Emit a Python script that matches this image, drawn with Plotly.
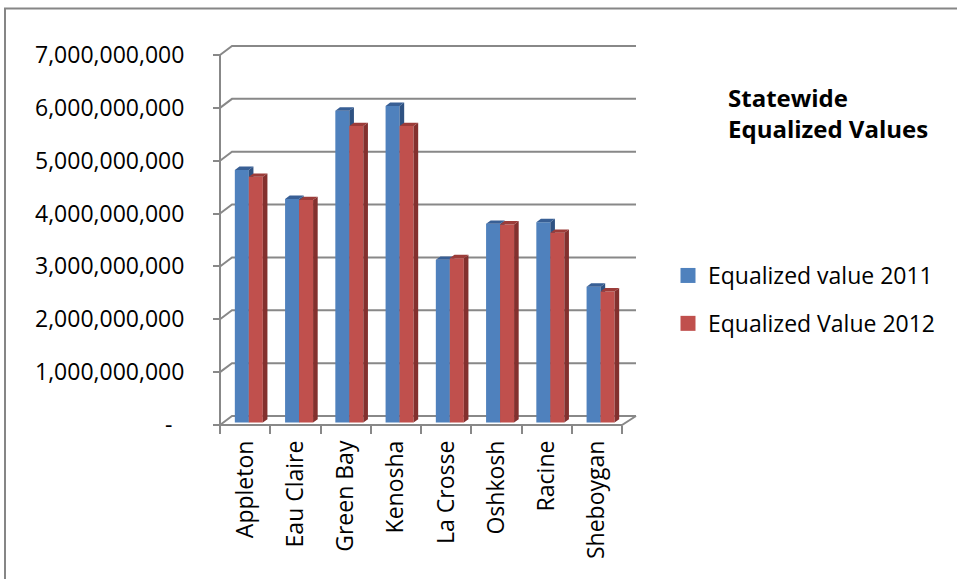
import plotly.graph_objects as go

# ---- data -------------------------------------------------------------
cities = ["Appleton", "Eau Claire", "Green Bay", "Kenosha",
          "La Crosse", "Oshkosh", "Racine", "Sheboygan"]
value_2011 = [4.78e9, 4.23e9, 5.90e9, 5.99e9, 3.08e9, 3.76e9, 3.79e9, 2.57e9]
value_2012 = [4.65e9, 4.21e9, 5.61e9, 5.61e9, 3.11e9, 3.75e9, 3.59e9, 2.48e9]
series_names = ["Equalized value 2011", "Equalized Value 2012"]
y_tick_values = [0, 1e9, 2e9, 3e9, 4e9, 5e9, 6e9, 7e9]
chart_title = "Statewide<br>Equalized Values"

# ---- layout geometry (pixels) -----------------------------------------
W, H = 957, 579
L, R, T, B = 200, 640, 40, 440          # plot area box
AXIS_X, AXIS_Y = 220, 425               # front-left corner of the floor
PX_PER_CAT = 50.25                      # horizontal pixels per category
PX_PER_BN = 52.857                      # vertical pixels per 1,000,000,000

WALL_DX, WALL_DY = 12, 9                # depth of the box (back wall offset)
BAR_DX, BAR_DY = 3.7, 2.4               # bars sit slightly behind the front
BAR_W = 14                              # front-face width of one bar
BAR_DEPTH_DX, BAR_DEPTH_DY = 4.6, 3.4   # visible depth of a bar

FONT = "'Open Sans', Lato, sans-serif"
GRID = "#888888"
COLORS = {
    "front": ["#4F81BD", "#C0504D"],
    "side": ["#2F5282", "#83302E"],
    "top": ["#385F95", "#9C3C39"],
}


def dx(px):
    return px / PX_PER_CAT


def dy(px):
    return px / PX_PER_BN * 1e9


def paper_x(px):
    return (px - L) / (R - L)


def paper_y(py):
    return (B - py) / (B - T)


x_lo = -0.5 - dx(AXIS_X - L)
x_hi = -0.5 + dx(R - AXIS_X)
y_lo = -dy(B - AXIS_Y)
y_hi = dy(AXIS_Y - T)
x_first, x_last = -0.5, len(cities) - 0.5

fig = go.Figure()

# ---- box: walls, gridlines and floor ---------------------------------
gx, gy = [], []
for v in y_tick_values:
    gx += [x_first, x_first + dx(WALL_DX), x_last + dx(WALL_DX + 2), None]
    gy += [v, v + dy(WALL_DY), v + dy(WALL_DY), None]
# floor front edge, floor right edge, front-left vertical edge
gx += [x_first, x_last, x_last + dx(WALL_DX + 2), None,
       x_first, x_first, None]
gy += [0, 0, dy(WALL_DY), None,
       0, y_tick_values[-1], None]
fig.add_trace(go.Scatter(x=gx, y=gy, mode="lines",
                         line=dict(color=GRID, width=2),
                         hoverinfo="skip", showlegend=False))

# ---- 3D columns --------------------------------------------------------
ddx, ddy = dx(BAR_DEPTH_DX), dy(BAR_DEPTH_DY)
base = dy(BAR_DY)
for s, values in enumerate([value_2011, value_2012]):
    fx, fy, sx, sy, tx, ty = [], [], [], [], [], []
    for i, v in enumerate(values):
        center = i + dx(BAR_DX)
        x0 = center - dx(BAR_W) if s == 0 else center
        x1 = x0 + dx(BAR_W)
        top = base + v
        fx += [x0, x1, x1, x0, x0, None]
        fy += [base, base, top, top, base, None]
        sx += [x1, x1 + ddx, x1 + ddx, x1, x1, None]
        sy += [base, base + ddy, top + ddy, top, base, None]
        tx += [x0, x1, x1 + ddx, x0 + ddx, x0, None]
        ty += [top, top, top + ddy, top + ddy, top, None]
    for xs, ys, face in [(fx, fy, "front"), (sx, sy, "side"), (tx, ty, "top")]:
        fig.add_trace(go.Scatter(
            x=xs, y=ys, mode="lines", fill="toself",
            fillcolor=COLORS[face][s], line=dict(width=0, color=COLORS[face][s]),
            hoverinfo="skip", showlegend=False))

# legend entries
for s, name in enumerate(series_names):
    fig.add_trace(go.Scatter(
        x=[None], y=[None], mode="markers", name=name,
        legendgroup=name,
        marker=dict(symbol="square", size=15, color=COLORS["front"][s])))

# ---- axes --------------------------------------------------------------
y_tick_text = [f"{int(v):,}" if v else "-\u00a0\u00a0" for v in y_tick_values]

fig.update_layout(
    width=W, height=H,
    margin=dict(l=L, r=W - R, t=T, b=H - B, pad=0),
    paper_bgcolor="white", plot_bgcolor="white",
    font=dict(family=FONT, size=23, color="black"),
    title=dict(text=chart_title, xref="container", yref="container",
               x=728 / W, xanchor="left", y=1 - 107 / H, yanchor="top",
               font=dict(family=FONT, size=24, color="black", weight="bold")),
    legend=dict(x=paper_x(668), xanchor="left", y=paper_y(254), yanchor="top",
                font=dict(family=FONT, size=23, color="black"),
                tracegroupgap=15, bgcolor="rgba(0,0,0,0)"),
    xaxis=dict(range=[x_lo, x_hi], anchor="free", position=paper_y(AXIS_Y),
               tickmode="array", tickvals=list(range(len(cities))),
               ticktext=cities, tickangle=-90, ticks="", showgrid=False,
               zeroline=False, showline=False, ticklabelstandoff=10,
               tickfont=dict(family=FONT, size=23, color="black"),
               minor=dict(tick0=-0.5, dtick=1, ticks="outside", ticklen=8,
                          tickwidth=2, tickcolor=GRID, showgrid=False)),
    yaxis=dict(range=[y_lo, y_hi], anchor="free", position=paper_x(AXIS_X),
               tickmode="array", tickvals=y_tick_values, ticktext=y_tick_text,
               ticks="outside", ticklen=7, tickwidth=2, tickcolor=GRID,
               showgrid=False, zeroline=False, showline=False,
               ticklabelstandoff=24,
               tickfont=dict(family=FONT, size=23, color="black")),
    shapes=[dict(type="rect", xref="paper", yref="paper",
                 x0=paper_x(5), y0=paper_y(8.5), x1=paper_x(W + 5),
                 y1=paper_y(H + 5), line=dict(color="#868686", width=2),
                 fillcolor="rgba(0,0,0,0)", layer="below")],
)

fig.write_html("out.html")
